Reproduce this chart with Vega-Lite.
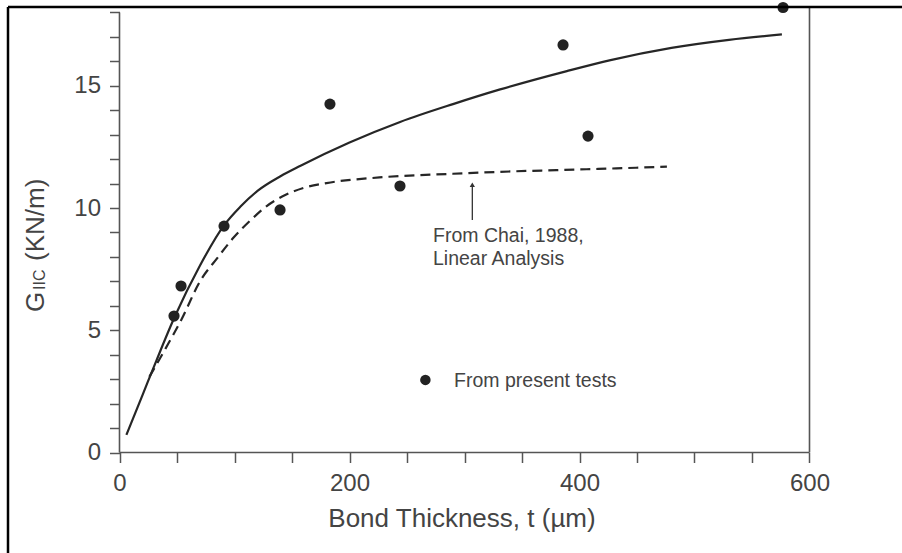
{
  "$schema": "https://vega.github.io/schema/vega-lite/v6.json",
  "width": 894,
  "height": 546,
  "autosize": {"type": "none"},
  "padding": {"left": 8, "top": 7, "right": 0, "bottom": 0},
  "background": "white",
  "config": {
    "view": {"stroke": null},
    "font": "Liberation Sans",
    "axis": {
      "grid": false,
      "domain": false,
      "tickColor": "#555",
      "tickWidth": 1.5,
      "tickSize": 10,
      "labelFont": "Liberation Sans",
      "labelFontSize": 24,
      "labelColor": "#444",
      "labelPadding": 9,
      "labelFlush": false,
      "labelOverlap": false,
      "titleFont": "Liberation Sans",
      "titleFontSize": 26,
      "titleFontWeight": "normal",
      "titleColor": "#444"
    }
  },
  "datasets": {
    "points": [
      {"t": 47.4, "g": 5.58},
      {"t": 53.5, "g": 6.81},
      {"t": 90.9, "g": 9.26},
      {"t": 139.6, "g": 9.92},
      {"t": 183, "g": 14.25},
      {"t": 243.9, "g": 10.9},
      {"t": 385.7, "g": 16.67},
      {"t": 407.4, "g": 12.94},
      {"t": 577, "g": 18.2}
    ],
    "solid": [
      {"t": 6, "g": 0.72},
      {"t": 20, "g": 2.35},
      {"t": 32, "g": 3.75},
      {"t": 48, "g": 5.55},
      {"t": 70, "g": 7.65},
      {"t": 91, "g": 9.3},
      {"t": 105, "g": 10.05},
      {"t": 120, "g": 10.7},
      {"t": 140, "g": 11.3},
      {"t": 157, "g": 11.72},
      {"t": 200, "g": 12.68},
      {"t": 244, "g": 13.52},
      {"t": 290, "g": 14.25},
      {"t": 331, "g": 14.85},
      {"t": 389, "g": 15.6},
      {"t": 427, "g": 16.05},
      {"t": 480, "g": 16.55},
      {"t": 530, "g": 16.88},
      {"t": 576, "g": 17.1}
    ],
    "dashed": [
      {"t": 26, "g": 3.1},
      {"t": 40, "g": 4.25},
      {"t": 54, "g": 5.45},
      {"t": 70, "g": 7.0},
      {"t": 85, "g": 7.95},
      {"t": 99, "g": 8.78},
      {"t": 114, "g": 9.5},
      {"t": 128, "g": 10.08},
      {"t": 145, "g": 10.55},
      {"t": 160, "g": 10.82},
      {"t": 180, "g": 11.02},
      {"t": 226, "g": 11.25},
      {"t": 290, "g": 11.4},
      {"t": 331, "g": 11.48},
      {"t": 380, "g": 11.55},
      {"t": 432, "g": 11.62},
      {"t": 476, "g": 11.69}
    ],
    "frame": [
      {"t": 0, "t2": 600, "g": 0, "g2": 0},
      {"t": 0, "t2": 0, "g": 0, "g2": 18.0},
      {"t": 600, "t2": 600, "g": 0, "g2": 18.221}
    ],
    "border": [
      {"t": -96.957, "t2": 680.435, "g": 18.221, "g2": 18.221},
      {"t": -96.957, "t2": -96.957, "g": -4.11, "g2": 18.221}
    ],
    "notes": [
      {"t": 272.6, "g": 8.85, "text": "From Chai, 1988,"},
      {"t": 272.6, "g": 7.91, "text": "Linear Analysis"},
      {"t": 290.9, "g": 2.92, "text": "From present tests"}
    ],
    "arrow": [
      {"t": 306.8, "g": 9.51, "g2": 10.95}
    ],
    "legendDot": [
      {"t": 266, "g": 2.97}
    ],
    "ytitleBig": [
      {"t": -65.65, "g": 5.746, "text": "G"},
      {"t": -65.65, "g": 7.832, "text": "(KN/m)"}
    ],
    "ytitleSmall": [
      {"t": -64.78, "g": 6.646, "text": "IIC"}
    ]
  },
  "encoding": {
    "x": {
      "field": "t",
      "type": "quantitative",
      "scale": {"domain": [-96.957, 680.435], "nice": false, "zero": false},
      "axis": {
        "values": [0, 50, 100, 150, 200, 250, 300, 350, 400, 450, 500, 550, 600],
        "labelExpr": "datum.value % 200 === 0 ? datum.label : ''",
        "offset": -100.5,
        "title": "Bond Thickness, t (µm)",
        "titlePadding": 10,
        "titleX": 453.5
      }
    },
    "y": {
      "field": "g",
      "type": "quantitative",
      "scale": {"domain": [-4.11, 18.221], "nice": false, "zero": false},
      "axis": {
        "values": [0, 1, 2, 3, 4, 5, 6, 7, 8, 9, 10, 11, 12, 13, 14, 15, 16, 17, 18],
        "labelExpr": "datum.value % 5 === 0 ? datum.label : ''",
        "offset": -111.5,
        "title": null
      }
    }
  },
  "layer": [
    {
      "data": {"name": "frame"},
      "mark": {"type": "rule", "color": "#555", "strokeWidth": 1.6},
      "encoding": {
        "x2": {"field": "t2"},
        "y2": {"field": "g2"}
      }
    },
    {
      "data": {"name": "solid"},
      "mark": {"type": "line", "color": "#262626", "strokeWidth": 2.2, "interpolate": "monotone"}
    },
    {
      "data": {"name": "dashed"},
      "mark": {"type": "line", "color": "#262626", "strokeWidth": 2.2, "strokeDash": [10, 6], "interpolate": "monotone"}
    },
    {
      "data": {"name": "points"},
      "mark": {"type": "circle", "size": 125, "color": "#222", "opacity": 1}
    },
    {
      "data": {"name": "legendDot"},
      "mark": {"type": "circle", "size": 110, "color": "#222", "opacity": 1}
    },
    {
      "data": {"name": "arrow"},
      "mark": {"type": "rule", "color": "#333", "strokeWidth": 1.3},
      "encoding": {"y2": {"field": "g2"}}
    },
    {
      "data": {"name": "arrow"},
      "mark": {"type": "point", "shape": "triangle-up", "filled": true, "color": "#333", "size": 28, "opacity": 1},
      "encoding": {"y": {"field": "g2", "type": "quantitative"}}
    },
    {
      "data": {"name": "notes"},
      "mark": {"type": "text", "align": "left", "baseline": "middle", "font": "Liberation Sans", "fontSize": 19.5, "color": "#444"},
      "encoding": {"text": {"field": "text"}}
    },
    {
      "data": {"name": "ytitleBig"},
      "mark": {"type": "text", "angle": 270, "align": "left", "baseline": "alphabetic", "font": "Liberation Sans", "fontSize": 26, "color": "#444"},
      "encoding": {"text": {"field": "text"}}
    },
    {
      "data": {"name": "ytitleSmall"},
      "mark": {"type": "text", "angle": 270, "align": "left", "baseline": "alphabetic", "font": "Liberation Sans", "fontSize": 16, "color": "#444"},
      "encoding": {"text": {"field": "text"}}
    },
    {
      "data": {"name": "border"},
      "mark": {"type": "rule", "color": "#000", "strokeWidth": 2.5},
      "encoding": {
        "x2": {"field": "t2"},
        "y2": {"field": "g2"}
      }
    }
  ]
}
